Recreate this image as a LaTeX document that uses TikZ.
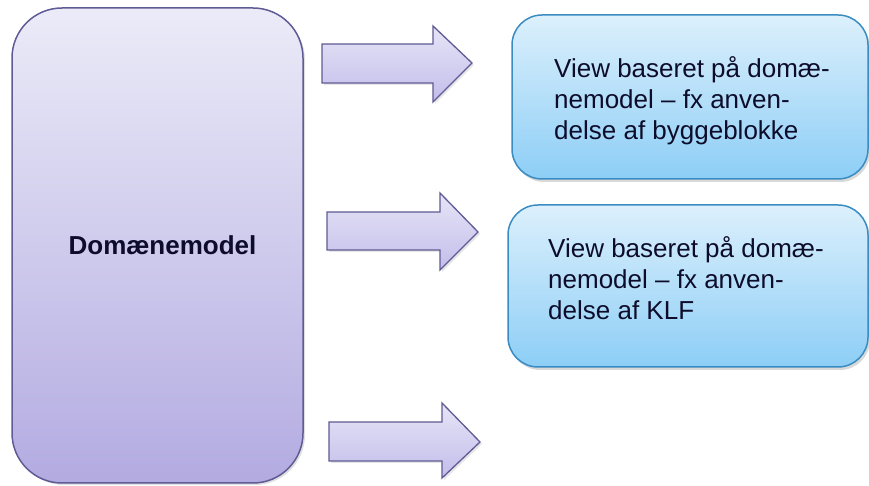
\documentclass[tikz,border=0pt]{standalone}
\usepackage{fontspec}
\setmainfont{Liberation Sans}
\usetikzlibrary{shadows}
\definecolor{bigtop}{HTML}{EBEBF8}
\definecolor{bigbot}{HTML}{B3ABE1}
\definecolor{purpleline}{HTML}{5F5B94}
\definecolor{arrtop}{HTML}{E6E4F7}
\definecolor{arrbot}{HTML}{C3BDEA}
\definecolor{bluetop}{HTML}{DCF0FC}
\definecolor{bluebot}{HTML}{8DCEF6}
\definecolor{blueline}{HTML}{3A8CC2}
\definecolor{textcol}{HTML}{0D0D2B}
\tikzset{
  bigbox/.style={draw=purpleline, line width=1.5pt, rounded corners=50pt,
    top color=bigtop, bottom color=bigbot, inner sep=0pt,
    drop shadow={shadow xshift=2pt, shadow yshift=-2pt, opacity=0.25}},
  viewbox/.style={draw=blueline, line width=1.5pt, rounded corners=30pt,
    top color=bluetop, bottom color=bluebot, inner sep=0pt,
    drop shadow={shadow xshift=2pt, shadow yshift=-3pt, opacity=0.3}},
  fatarrow/.style={draw=purpleline, line width=1.3pt, line join=miter,
    top color=arrtop, bottom color=arrbot,
    drop shadow={shadow xshift=2pt, shadow yshift=-2pt, opacity=0.2}},
  viewtext/.style={anchor=north west, inner sep=0pt, align=left, text=textcol,
    font=\fontsize{26}{31}\selectfont},
}
\begin{document}
\begin{tikzpicture}[x=1pt,y=1pt]
\useasboundingbox (0,0) rectangle (869,486);
% main box
\node[bigbox, minimum width=291pt, minimum height=475pt] (dom) at (157.5,240.5) {};
\node[anchor=base, inner sep=0pt, text=textcol, font=\fontsize{26}{31}\selectfont\bfseries] (domlabel) at (162.5,231) {Domænemodel};
% view boxes
\node[viewbox, minimum width=356pt, minimum height=164pt] (view1) at (690,389) {};
\node[viewbox, minimum width=360pt, minimum height=162pt] (view2) at (688,200) {};
\node[viewtext] (view1text) at (554,430) {View baseret på domæ-\\nemodel – fx anven-\\delse af byggeblokke};
\node[viewtext] (view2text) at (548,250) {View baseret på domæ-\\nemodel – fx anven-\\delse af KLF};
% arrows
\draw[fatarrow] (322,442) -- (433,442) -- (433,460) -- (472,423) -- (433,384) -- (433,403) -- (322,403) -- cycle;
\draw[fatarrow] (327,274) -- (440,274) -- (440,293) -- (478,254) -- (440,216) -- (440,236) -- (327,236) -- cycle;
\draw[fatarrow] (329,64) -- (442,64) -- (442,83) -- (480,44) -- (442,8) -- (442,25) -- (329,25) -- cycle;
\end{tikzpicture}
\end{document}
